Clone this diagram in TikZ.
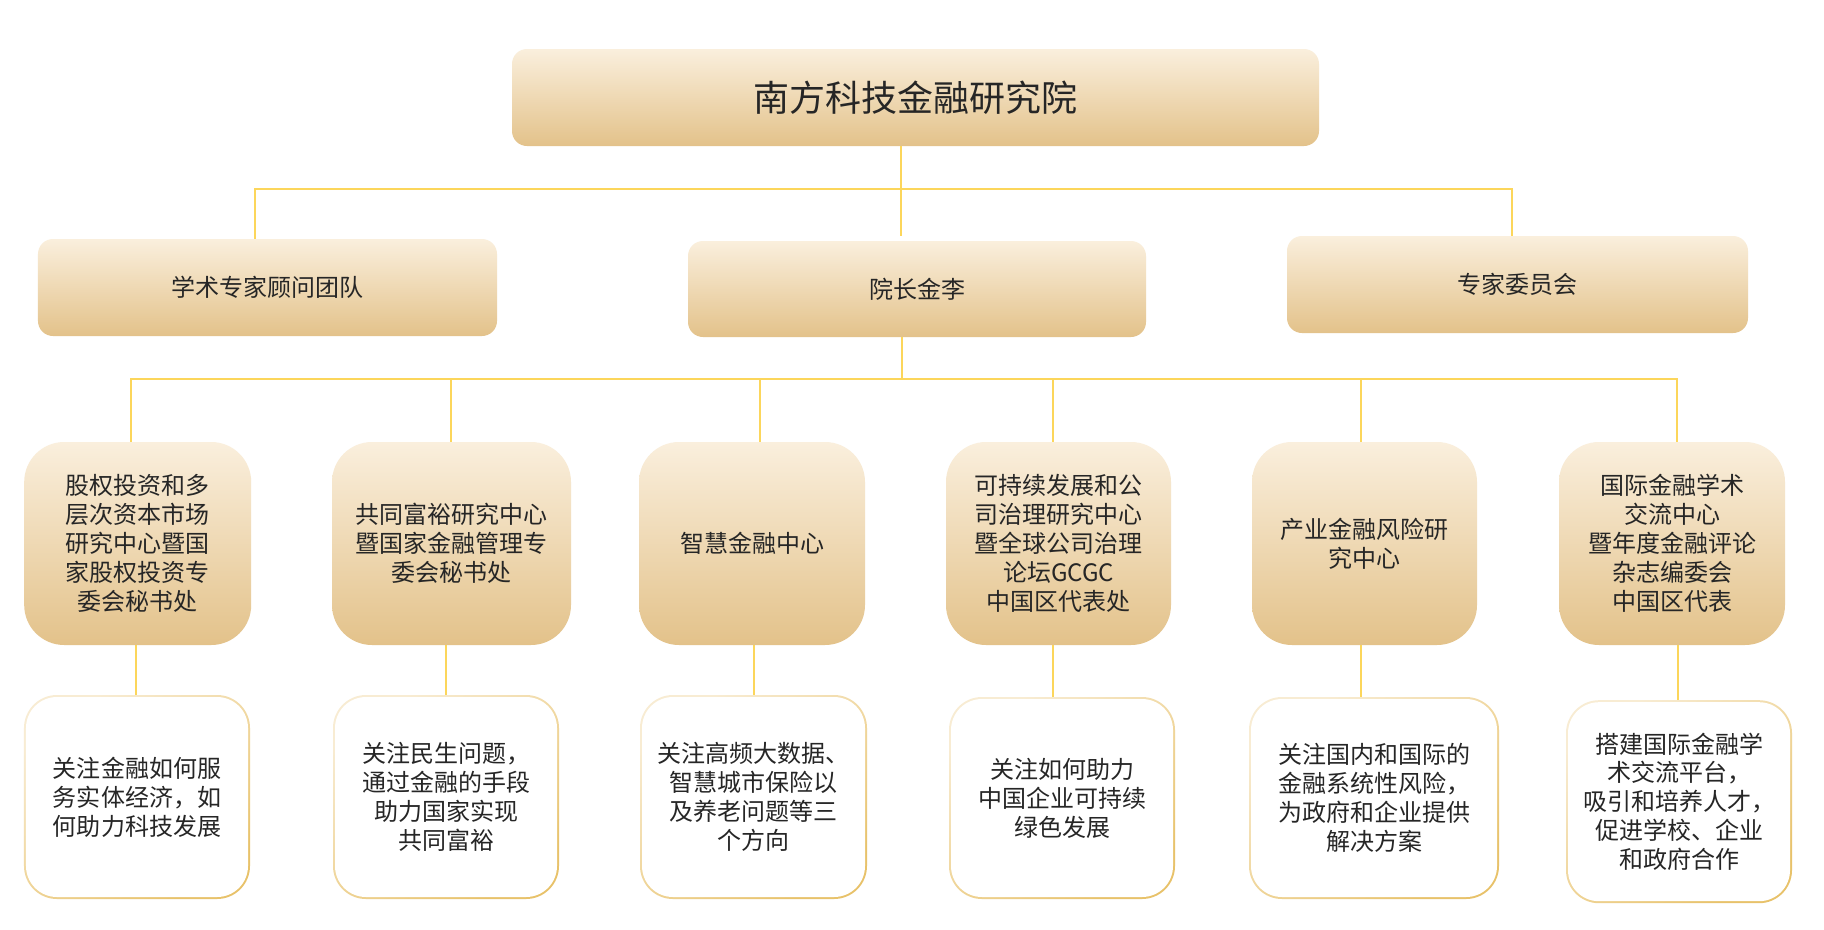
\documentclass[tikz,border=0pt]{standalone}
\usepackage{fontspec}
\setmainfont{Noto Sans CJK SC}
\definecolor{goldtop}{HTML}{FAEFDD}
\definecolor{goldbot}{HTML}{E3C28A}
\definecolor{linec}{HTML}{FCD65B}
\definecolor{rimtop}{HTML}{F8ECD3}
\definecolor{rimbot}{HTML}{E8C26A}
\definecolor{txt}{HTML}{262626}
\newcommand{\midfont}{\fontsize{24bp}{28.9bp}\selectfont}
\begin{document}
\begin{tikzpicture}[x=1bp,y=-1bp,
  conn/.style={draw=linec,line width=2bp},
  topbox/.style={rounded corners=15bp, top color=goldtop, bottom color=goldbot, draw=none, inner sep=0pt, text=txt, align=center},
  midbox/.style={rounded corners=40bp, top color=goldtop, bottom color=goldbot, draw=none, inner sep=0pt, text=txt, align=center, font=\midfont},
  rimbox/.style={rounded corners=33bp, top color=rimtop, bottom color=rimbot, shading angle=35, draw=none, inner sep=0pt},
  innerbox/.style={rounded corners=31bp, fill=white, draw=none, inner sep=0pt, text=txt, align=center, font=\midfont}
]
\useasboundingbox[fill=white] (0,0) rectangle (1824,929);

% top level
\node[topbox, minimum width=807bp, minimum height=97bp, font=\fontsize{36bp}{40bp}\selectfont] (title) at (915.5,97.5) {南方科技金融研究院};

% second level
\node[topbox, minimum width=459bp, minimum height=97bp, font=\midfont] (adv) at (267.5,287.5) {学术专家顾问团队};
\node[topbox, minimum width=458bp, minimum height=96bp, font=\midfont] (dean) at (917,289) {院长金李};
\node[topbox, minimum width=461bp, minimum height=97bp, font=\midfont] (exp) at (1517.5,284.5) {专家委员会};

% third level
\node[midbox, minimum width=227bp, minimum height=203bp] (m1) at (137.7,543.5) {股权投资和多\\层次资本市场\\研究中心暨国\\家股权投资专\\委会秘书处};
\node[midbox, minimum width=239bp, minimum height=203bp] (m2) at (451.5,543.5) {共同富裕研究中心\\暨国家金融管理专\\委会秘书处};
\node[midbox, minimum width=226bp, minimum height=203bp] (m3) at (752,543.5) {智慧金融中心};
\node[midbox, minimum width=225bp, minimum height=203bp] (m4) at (1058.5,543.5) {可持续发展和公\\司治理研究中心\\暨全球公司治理\\论坛GCGC\\中国区代表处};
\node[midbox, minimum width=225bp, minimum height=203bp] (m5) at (1364.5,543.5) {产业金融风险研\\究中心};
\node[midbox, minimum width=226bp, minimum height=203bp] (m6) at (1672,543.5) {国际金融学术\\交流中心\\暨年度金融评论\\杂志编委会\\中国区代表};

% fourth level
\node[rimbox, minimum width=226bp, minimum height=204bp] (b1) at (137,797) {};
\node[innerbox, minimum width=222bp, minimum height=200bp] (t1) at (b1.center) {关注金融如何服\\务实体经济，如\\何助力科技发展};
\node[rimbox, minimum width=226bp, minimum height=204bp] (b2) at (446,797) {};
\node[innerbox, minimum width=222bp, minimum height=200bp] (t2) at (b2.center) {关注民生问题，\\通过金融的手段\\助力国家实现\\共同富裕};
\node[rimbox, minimum width=227bp, minimum height=204bp] (b3) at (753.5,797) {};
\node[innerbox, minimum width=223bp, minimum height=200bp] (t3) at (b3.center) {关注高频大数据、\\智慧城市保险以\\及养老问题等三\\个方向};
\node[rimbox, minimum width=226bp, minimum height=202bp] (b4) at (1062,798) {};
\node[innerbox, minimum width=222bp, minimum height=198bp] (t4) at (b4.center) {关注如何助力\\中国企业可持续\\绿色发展};
\node[rimbox, minimum width=250bp, minimum height=202bp] (b5) at (1374,798) {};
\node[innerbox, minimum width=246bp, minimum height=198bp] (t5) at (b5.center) {关注国内和国际的\\金融系统性风险，\\为政府和企业提供\\解决方案};
\node[rimbox, minimum width=226bp, minimum height=203bp] (b6) at (1679,801.7) {};
\node[innerbox, minimum width=222bp, minimum height=199bp] (t6) at (b6.center) {搭建国际金融学\\术交流平台，\\吸引和培养人才，\\促进学校、企业\\和政府合作};

% bus coordinates
\coordinate (j1) at (901,189);
\coordinate (ka) at (255,189);
\coordinate (ke) at (1512,189);
\coordinate (j2) at (902,379);
\coordinate (k1) at (131,379);
\coordinate (k2) at (451,379);
\coordinate (k3) at (760,379);
\coordinate (k4) at (1053,379);
\coordinate (k5) at (1361,379);
\coordinate (k6) at (1677,379);
\coordinate (d1) at (135.5,670);
\coordinate (d2) at (446,670);
\coordinate (d3) at (754,670);
\coordinate (d4) at (1053,670);
\coordinate (d5) at (1360.5,670);
\coordinate (d6) at (1677.5,670);

% connectors
\draw[conn, shorten >=5bp] (title.south -| j1) -- (dean.north -| j1);
\draw[conn] (adv.north -| ka) -- (ka) -- (ke) -- (exp.north -| ke);
\draw[conn] (dean.south -| j2) -- (j2);
\draw[conn] (m1.north -| k1) -- (k1) -- (k6) -- (m6.north -| k6);
\draw[conn] (k2) -- (m2.north -| k2);
\draw[conn] (k3) -- (m3.north -| k3);
\draw[conn] (k4) -- (m4.north -| k4);
\draw[conn] (k5) -- (m5.north -| k5);
\draw[conn] (m1.south -| d1) -- (b1.north -| d1);
\draw[conn] (m2.south -| d2) -- (b2.north -| d2);
\draw[conn] (m3.south -| d3) -- (b3.north -| d3);
\draw[conn] (m4.south -| d4) -- (b4.north -| d4);
\draw[conn] (m5.south -| d5) -- (b5.north -| d5);
\draw[conn] (m6.south -| d6) -- (b6.north -| d6);
\end{tikzpicture}
\end{document}
